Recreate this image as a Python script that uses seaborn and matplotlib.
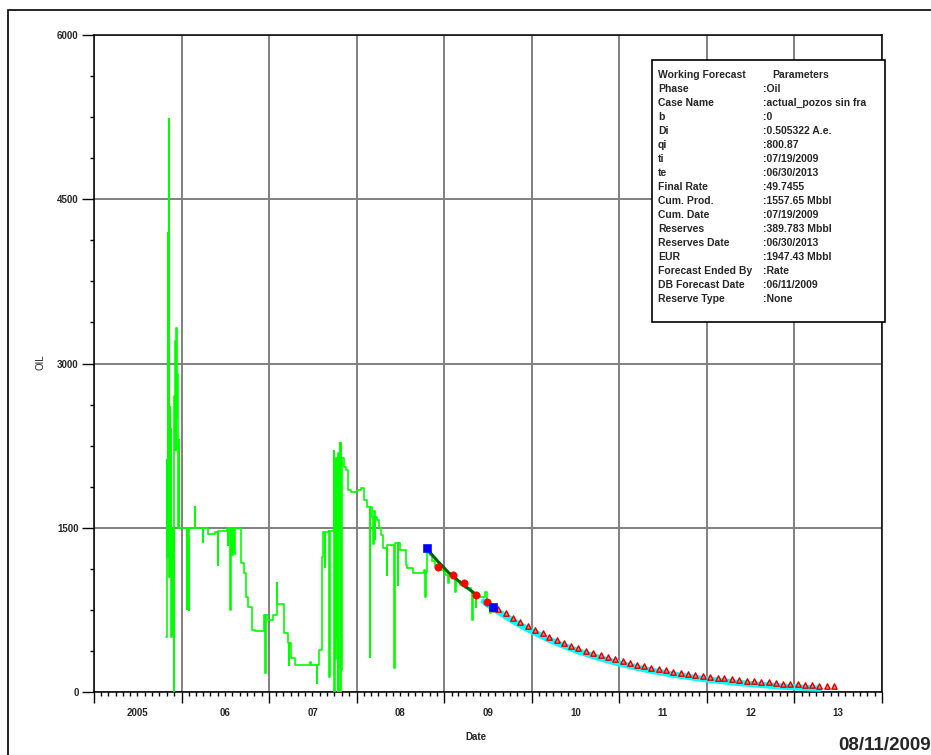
import matplotlib
matplotlib.use("Agg")
import matplotlib.pyplot as plt
import matplotlib.dates as mdates
import matplotlib.transforms as mtransforms
from matplotlib.patches import Rectangle
import numpy as np
import pandas as pd
import seaborn as sns

# daily oil history (decimal year, rate)
prod_year = [
    2005.826, 2005.830, 2005.836, 2005.842, 2005.848, 2005.852, 2005.857, 2005.861,
    2005.866, 2005.872, 2005.878, 2005.884, 2005.890, 2005.896, 2005.902, 2005.908,
    2005.914, 2005.922, 2005.928, 2005.934, 2005.938, 2005.944, 2005.950, 2005.958,
    2005.966, 2005.972, 2006.060, 2006.064, 2006.070, 2006.076, 2006.082, 2006.088,
    2006.149, 2006.153, 2006.240, 2006.244, 2006.297, 2006.378, 2006.412, 2006.416,
    2006.520, 2006.530, 2006.534, 2006.556, 2006.560, 2006.580, 2006.586, 2006.600,
    2006.606, 2006.675, 2006.715, 2006.732, 2006.760, 2006.800, 2006.835, 2006.940,
    2006.956, 2006.962, 2006.985, 2007.040, 2007.087, 2007.092, 2007.170, 2007.218,
    2007.222, 2007.226, 2007.255, 2007.300, 2007.470, 2007.480, 2007.545, 2007.552,
    2007.575, 2007.600, 2007.610, 2007.635, 2007.640, 2007.680, 2007.686, 2007.692,
    2007.740, 2007.746, 2007.752, 2007.758, 2007.764, 2007.770, 2007.776, 2007.782,
    2007.790, 2007.800, 2007.806, 2007.812, 2007.818, 2007.824, 2007.830, 2007.850,
    2007.880, 2007.900, 2007.940, 2008.000, 2008.050, 2008.080, 2008.120, 2008.151,
    2008.156, 2008.180, 2008.190, 2008.195, 2008.205, 2008.210, 2008.231, 2008.250,
    2008.280, 2008.300, 2008.346, 2008.350, 2008.420, 2008.426, 2008.432, 2008.471,
    2008.476, 2008.500, 2008.560, 2008.575, 2008.643, 2008.757, 2008.770, 2008.785,
    2008.790, 2008.800, 2008.810, 2008.838, 2008.860, 2008.900, 2008.952, 2009.009,
    2009.043, 2009.050, 2009.100, 2009.124, 2009.130, 2009.181, 2009.238, 2009.300,
    2009.318, 2009.324, 2009.360, 2009.366, 2009.410, 2009.460, 2009.490, 2009.520,
    2009.530, 2009.547,
]
prod_oil = [
    500, 2120, 1230, 4190, 1500, 4190, 5230, 1050,
    2600, 1150, 2400, 500, 1500, 520, 1480, 0,
    2700, 2210, 3210, 2210, 3320, 2500, 2900, 1500,
    2300, 1500, 760, 1495, 780, 1400, 750, 1495,
    1690, 1495, 1370, 1495, 1440, 1465, 1160, 1470,
    1495, 1340, 1495, 750, 1495, 1250, 1495, 1260,
    1495, 1180, 1090, 870, 780, 565, 560, 700,
    175, 700, 655, 700, 1000, 800, 540, 450,
    250, 450, 310, 250, 270, 250, 80, 250,
    385, 1236, 1465, 1145, 1465, 1470, 140, 1470,
    2200, 0, 2130, 300, 2140, 500, 2100, 0,
    2180, 1500, 2270, 0, 2270, 200, 2140, 2055,
    2030, 1845, 1826, 1845, 1863, 1750, 1690, 322,
    1690, 1600, 1350, 1650, 1400, 1600, 1570, 1497,
    1434, 1315, 1068, 1342, 1342, 219, 1364, 977,
    1364, 1297, 1160, 1132, 1087, 1087, 1110, 870,
    1100, 1327, 1270, 1250, 1200, 1150, 1110, 1070,
    995, 1060, 1040, 913, 1010, 980, 950, 920,
    657, 900, 776, 880, 870, 913, 840, 721,
    800, 740,
]

# selected history used for the fit
fit_year = [2008.82, 2008.93, 2009.05, 2009.20, 2009.38]
fit_oil = [1290, 1190, 1090, 990, 880]

sample_year = [2008.93, 2009.10, 2009.22, 2009.36, 2009.49, 2009.56]
sample_oil = [1144, 1068, 993, 886, 819, 765]

anchor_year = [2008.80, 2009.56]
anchor_oil = [1315, 773]

# monthly forecast (mid-month), Aug 2009 .. Jun 2013
forecast_oil = [
    761, 718, 677, 638, 602, 568, 535, 505, 476, 449, 424, 399,
    377, 355, 335, 316, 298, 281, 265, 250, 236, 222, 210, 198,
    186, 176, 166, 156, 147, 139, 131, 124, 117, 110, 104, 98,
    92, 87, 82, 77, 73, 69, 65, 61, 58, 55, 51,
]
# monthly forecast band, Jun 2009 .. Apr 2013
band_oil = [
    855, 805, 761, 718, 677, 638, 602, 568, 535, 505, 476, 449,
    424, 399, 377, 355, 335, 316, 298, 281, 265, 250, 236, 222,
    210, 198, 186, 176, 166, 156, 147, 139, 131, 124, 117, 110,
    104, 98, 92, 87, 82, 77, 73, 69, 65, 61, 58,
]

param_names = [
    "Working Forecast", "Phase", "Case Name", "b", "Di", "qi", "ti", "te",
    "Final Rate", "Cum. Prod.", "Cum. Date", "Reserves", "Reserves Date",
    "EUR", "Forecast Ended By", "DB Forecast Date", "Reserve Type",
]
param_values = [
    "Parameters", ":Oil", ":actual_pozos sin fra", ":0", ":0.505322 A.e.",
    ":800.87", ":07/19/2009", ":06/30/2013", ":49.7455", ":1557.65 Mbbl",
    ":07/19/2009", ":389.783 Mbbl", ":06/30/2013", ":1947.43 Mbbl", ":Rate",
    ":06/11/2009", ":None",
]

year_labels = ["2005", "06", "07", "08", "09", "10", "11", "12", "13"]


def to_date(years):
    y = np.asarray(years, dtype=float)
    return pd.to_datetime("2005-01-01") + pd.to_timedelta((y - 2005) * 365.25, unit="D")


sns.set_style("ticks")
plt.rcParams["font.family"] = ["Liberation Sans", "DejaVu Sans"]

W, H = 931, 755
fig = plt.figure(figsize=(W / 100, H / 100), dpi=100)
ax = fig.add_axes([94 / W, (H - 692) / H, (882 - 94) / W, (692 - 35) / H])

prod = pd.DataFrame({"date": to_date(prod_year), "oil": prod_oil})
sns.lineplot(data=prod, x="date", y="oil", color="#00ff00", lw=1.2,
             drawstyle="steps-post", estimator=None, sort=False, ax=ax, zorder=3)

band = pd.DataFrame({
    "date": pd.date_range("2009-06-01", periods=len(band_oil), freq="MS") + pd.Timedelta(days=14),
    "oil": band_oil,
})
sns.lineplot(data=band, x="date", y="oil", color="#00ffff", lw=4.5,
             estimator=None, ax=ax, zorder=4)
band_line = ax.lines[-1]
band_line.set_transform(ax.transData + mtransforms.ScaledTranslation(0, -3 / 100, fig.dpi_scale_trans))

fit = pd.DataFrame({"date": to_date(fit_year), "oil": fit_oil})
sns.lineplot(data=fit, x="date", y="oil", color="#006400", lw=2.2,
             estimator=None, ax=ax, zorder=5)

fc = pd.DataFrame({
    "date": pd.date_range("2009-08-01", periods=len(forecast_oil), freq="MS") + pd.Timedelta(days=14),
    "oil": forecast_oil,
})
sns.scatterplot(data=fc, x="date", y="oil", marker="^", s=15, facecolor="#f08080",
                edgecolor="#e00000", linewidth=1, ax=ax, zorder=6)

smp = pd.DataFrame({"date": to_date(sample_year), "oil": sample_oil})
sns.scatterplot(data=smp, x="date", y="oil", marker="o", s=28, color="#ff0000",
                edgecolor="#ff0000", ax=ax, zorder=7)

anc = pd.DataFrame({"date": to_date(anchor_year), "oil": anchor_oil})
sns.scatterplot(data=anc, x="date", y="oil", marker="s", s=30, color="#0000ff",
                edgecolor="#0000ff", ax=ax, zorder=8)

ax.set_xlim(pd.Timestamp("2005-01-01"), pd.Timestamp("2014-01-01"))
ax.set_ylim(0, 6000)

ax.xaxis.set_major_locator(mdates.YearLocator())
ax.xaxis.set_minor_locator(mdates.MonthLocator())
ax.xaxis.set_major_formatter(plt.NullFormatter())
ax.set_yticks([0, 1500, 3000, 4500, 6000])
ax.set_yticks(np.arange(0, 6001, 375), minor=True)

ax.tick_params(axis="x", which="major", length=8, width=1, direction="out", color="black")
ax.tick_params(axis="x", which="minor", length=3, width=1, direction="out", color="black")
ax.tick_params(axis="y", which="major", length=9, width=1, direction="out",
               labelsize=7, pad=2, color="black")
ax.tick_params(axis="y", which="minor", length=3, width=1, direction="out", color="black")
for lbl in ax.get_yticklabels():
    lbl.set_fontweight("bold")

ax.set_axisbelow(True)
ax.grid(True, which="major", color="#808080", lw=1.4)
for s in ax.spines.values():
    s.set_visible(True)
    s.set_color("black")
    s.set_linewidth(1.1)

for i, lab in enumerate(year_labels):
    ax.text(pd.Timestamp(f"{2005 + i}-07-02"), -0.025, lab, transform=ax.get_xaxis_transform(),
            ha="center", va="top", fontsize=7, fontweight="bold")

ax.set_xlabel("")
ax.set_ylabel("")
fig.text(476 / W, 1 - 737 / H, "Date", ha="center", va="center", fontsize=7, fontweight="bold")
fig.text(40 / W, 1 - 362 / H, "OIL", ha="center", va="center", rotation=90, fontsize=7)
fig.text(838 / W, 1 - 746 / H, "08/11/2009", ha="left", va="center", fontsize=13.5,
         fontweight="bold")

# outer frame
fig.add_artist(Rectangle((8 / W, -0.05), 1.1, 1 - 10 / H + 0.05, transform=fig.transFigure,
                         fill=False, edgecolor="black", lw=1.2, clip_on=False))

# parameter box
bx0, by0, bx1, by1 = 652, 60, 885, 322
fig.add_artist(Rectangle((bx0 / W, 1 - by1 / H), (bx1 - bx0) / W, (by1 - by0) / H,
                         transform=fig.transFigure, facecolor="white", edgecolor="black",
                         lw=1.2, zorder=10))
for i, (name, val) in enumerate(zip(param_names, param_values)):
    yy = 1 - (75 + i * 14) / H
    fig.text(658 / W, yy, name, ha="left", va="center", fontsize=7.5, fontweight="bold",
             zorder=11)
    fig.text((763 if i else 772) / W, yy, val, ha="left", va="center", fontsize=7.5,
             fontweight="bold", zorder=11)

fig.savefig("out.png", dpi=100)
